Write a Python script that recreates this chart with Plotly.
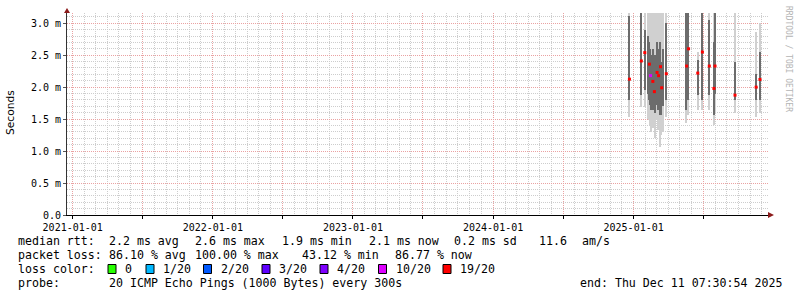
import plotly.graph_objects as go
import pandas as pd

# ---------------- data ----------------
col_dates = ["2024-12-21", "2025-01-21", "2025-01-30", "2025-02-08", "2025-02-11",
             "2025-02-14", "2025-02-17", "2025-02-20", "2025-02-24", "2025-02-27",
             "2025-03-03", "2025-03-07", "2025-03-12", "2025-03-15", "2025-03-19",
             "2025-03-27", "2025-05-19", "2025-05-24", "2025-06-17", "2025-06-29",
             "2025-07-17", "2025-07-29", "2025-08-01", "2025-09-22", "2025-11-16",
             "2025-11-26"]
# smoke: outer (light) band and inner (dark) band, in ms
outer_hi = [3.16, 3.16, 3.16, 3.16, 3.16, 3.16, 3.16, 3.16, 3.16, 3.16, 3.16,
            3.16, 3.16, 3.16, 3.16, 3.16, 3.16, 3.16, 2.55, 3.16, 3.16, 3.16,
            3.16, 3.16, 2.86, 3.00]
outer_lo = [1.53, 1.69, 1.69, 1.50, 1.48, 1.41, 1.30, 1.36, 1.41, 1.20, 1.48,
            1.33, 1.06, 1.25, 1.30, 1.53, 1.44, 1.56, 1.64, 1.64, 1.64, 1.41,
            1.60, 1.59, 1.53, 1.59]
inner_hi = [3.12, 3.16, 2.90, 2.80, 2.70, 2.60, 2.50, 2.60, 2.40, 2.50, 2.70,
            2.60, 2.70, 2.40, 2.60, 3.00, 3.16, 3.16, 2.42, 3.16, 3.05, 2.70,
            3.16, 2.40, 2.20, 2.55]
inner_lo = [1.80, 1.875, 1.95, 1.90, 1.80, 1.72, 1.64, 1.64, 1.64, 1.60, 1.72,
            1.64, 1.56, 1.56, 1.70, 1.80, 1.64, 1.80, 1.88, 1.80, 1.88, 1.56,
            1.90, 1.80, 1.80, 1.80]
median_rtt = [2.125, 2.41, 2.54, None, 2.36, 2.18, None, 2.09, 1.93, None, 2.23,
              2.18, 2.32, 1.99, None, 2.21, 2.33, 2.60, 2.22, 2.55, 2.33, 1.98,
              2.33, 1.875, 2.00, 2.12]
median_loss = ["19/20", "19/20", "19/20", "19/20", "19/20", "10/20", "19/20",
               "19/20", "19/20", "19/20", "19/20", "19/20", "19/20", "19/20",
               "19/20", "19/20", "19/20", "19/20", "19/20", "19/20", "19/20",
               "19/20", "19/20", "19/20", "19/20", "19/20"]

loss_labels = ["0", "1/20", "2/20", "3/20", "4/20", "10/20", "19/20"]
loss_colors = ["#26ff00", "#00b8ff", "#0059ff", "#5e00ff", "#7e00ff", "#dd00ff", "#ff0000"]

y_tick_vals = [0, 0.5, 1.0, 1.5, 2.0, 2.5, 3.0]
y_tick_text = ["0.0", "0.5 m", "1.0 m", "1.5 m", "2.0 m", "2.5 m", "3.0 m"]
x_tick_vals = ["2021-01-01", "2021-07-01", "2022-01-01", "2022-07-01", "2023-01-01",
               "2023-07-01", "2024-01-01", "2024-07-01", "2025-01-01", "2025-07-01"]
x_tick_text = ["2021-01-01", "", "2022-01-01", "", "2023-01-01", "",
               "2024-01-01", "", "2025-01-01", ""]

rtt_parts = ["median rtt:", "2.2 ms avg", "2.6 ms max", "1.9 ms min",
             "2.1 ms now", "0.2 ms sd", "11.6", "am/s"]
loss_parts = ["packet loss:", "86.10 % avg", "100.00 % max", "43.12 % min", "86.77 % now"]
probe_parts = ["probe:", "20 ICMP Echo Pings (1000 Bytes) every 300s"]
end_text = "end: Thu Dec 11 07:30:54 2025"

# ---------------- geometry / style ----------------
W, H = 797, 297
PL, PR, PT, PB = 67, 768, 13, 215
DAYS_PER_PX = 2.606
BAR_W_MS = 1.5 * DAYS_PER_PX * 86400000

MONO = "DejaVu Sans Mono"
GRID = "#cdcdcd"
MGRID = "#eaa2a2"
ARROW = "#8c1c1c"

# minor grid positions (months / tenths) that do not coincide with the major grid
x_minor = [d.strftime("%Y-%m-%d") for d in pd.date_range("2021-01-01", "2025-12-01", freq="MS")
           if d.month not in (1, 7)]
y_minor = [round(i * 0.1, 1) for i in range(1, 32) if i % 5 != 0]


def px(x):
    return (x - PL) / (PR - PL)


def py(y):
    return (PB - y) / (PB - PT)


color_of = dict(zip(loss_labels, loss_colors))

fig = go.Figure()
fig.add_trace(go.Bar(x=col_dates, y=[h - l for h, l in zip(outer_hi, outer_lo)],
                     base=outer_lo, width=BAR_W_MS, marker_color="#d0d0d0",
                     marker_line_width=0, hoverinfo="skip"))
fig.add_trace(go.Bar(x=col_dates, y=[h - l for h, l in zip(inner_hi, inner_lo)],
                     base=inner_lo, width=BAR_W_MS, marker_color="#6c6c6c",
                     marker_line_width=0, hoverinfo="skip"))
fig.add_trace(go.Scatter(x=col_dates, y=median_rtt, mode="markers",
                         marker=dict(symbol="square", size=3,
                                     color=[color_of[l] for l in median_loss],
                                     line=dict(width=0)),
                         hoverinfo="skip"))

fig.update_layout(
    width=W, height=H,
    margin=dict(l=PL, r=W - PR, t=PT, b=H - PB),
    paper_bgcolor="white", plot_bgcolor="white",
    showlegend=False, barmode="overlay", bargap=0,
    font=dict(family=MONO, size=10, color="#000"),
)
fig.update_xaxes(
    type="date", range=["2020-12-17 03:00", "2025-12-16 22:00"],
    tickmode="array", tickvals=x_tick_vals, ticktext=x_tick_text,
    showgrid=True, gridcolor=MGRID, griddash="1px,1px", gridwidth=1,
    ticks="outside", ticklen=3, tickcolor="#000",
    showline=True, linecolor="#000", linewidth=1, zeroline=False,
    tickfont=dict(family=MONO, size=10, color="#000"),
    minor=dict(tickmode="array", tickvals=x_minor, showgrid=True, gridcolor=GRID,
               griddash="1px,1px", gridwidth=1),
)
fig.update_yaxes(
    range=[0, 3.16], tickmode="array", tickvals=y_tick_vals, ticktext=y_tick_text,
    showgrid=True, gridcolor=MGRID, griddash="1px,1px", gridwidth=1,
    ticks="outside", ticklen=3, tickcolor="#555",
    showline=True, linecolor="#333", linewidth=1, zeroline=False,
    tickfont=dict(family=MONO, size=10, color="#000"),
    minor=dict(tickmode="array", tickvals=y_minor, showgrid=True, gridcolor=GRID,
               griddash="1px,1px", gridwidth=1),
)

# axis arrows
fig.add_shape(type="path", xref="paper", yref="paper", xsizemode="pixel", ysizemode="pixel",
              xanchor=0, yanchor=1, path="M -3 0 L 3 0 L 0 5 Z",
              fillcolor=ARROW, line=dict(width=0))
fig.add_shape(type="path", xref="paper", yref="paper", xsizemode="pixel", ysizemode="pixel",
              xanchor=1, yanchor=0, path="M 0 -3 L 0 3 L 6 0 Z",
              fillcolor=ARROW, line=dict(width=0))

anns = []
anns.append(dict(text="Seconds", x=px(10), y=py(113), xref="paper", yref="paper",
                 textangle=-90, showarrow=False, xanchor="center", yanchor="middle",
                 font=dict(family="DejaVu Sans", size=10.7, color="#000")))
anns.append(dict(text="RRDTOOL / TOBI OETIKER", x=px(788), y=py(59), xref="paper",
                 yref="paper", textangle=90, showarrow=False, xanchor="center",
                 yanchor="middle", font=dict(family=MONO, size=8, color="#b4b4b4")))


def txt(s, x, y):
    anns.append(dict(text=s.replace(" ", "&nbsp;"), x=px(x), y=py(y), xref="paper",
                     yref="paper", showarrow=False, xanchor="left", yanchor="middle",
                     font=dict(family=MONO, size=11.6, color="#000")))


for s, x in zip(rtt_parts, [16, 107.3, 193.3, 280, 366.7, 451.7, 536.7, 580]):
    txt(s, x, 241)
for s, x in zip(loss_parts, [16, 107.3, 192.7, 300, 393]):
    txt(s, x, 255)
txt("loss color:", 16, 269)
box_x = [108, 146, 203.5, 262, 320, 378.5, 443]
for lab, col, bx in zip(loss_labels, loss_colors, box_x):
    fig.add_shape(type="rect", xref="paper", yref="paper",
                  x0=px(bx), x1=px(bx + 8), y0=py(273.5), y1=py(264.5),
                  fillcolor=col, line=dict(color="#000", width=1))
    txt(lab, bx + 15, 269)
for s, x in zip(probe_parts, [16, 107.3]):
    txt(s, x, 283)
txt(end_text, 578.3, 283)

fig.update_layout(annotations=anns)
fig.write_html("out.html")
